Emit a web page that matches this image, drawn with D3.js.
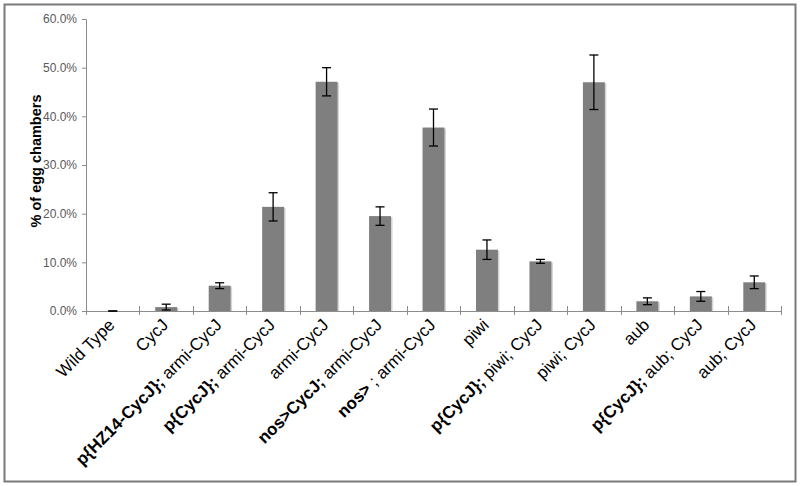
<!DOCTYPE html>
<html>
<head>
<meta charset="utf-8">
<script src="https://cdn.jsdelivr.net/npm/d3@7"></script>
<style>
  body { margin: 0; background: #fff; }
  svg { display: block; font-family: "Liberation Sans", Arial, sans-serif; }
</style>
</head>
<body>
<div id="chart"></div>
<script>
// categories: bold prefix + regular remainder
var boldParts = ["", "", "p{HZ14-CycJ};", "p{CycJ};", "", "nos>CycJ;", "nos>", "", "p{CycJ};", "", "", "p{CycJ};", ""];
var plainParts = ["Wild Type", "CycJ", " armi-CycJ", " armi-CycJ", "armi-CycJ", " armi-CycJ", " ; armi-CycJ", "piwi", " piwi; CycJ", "piwi; CycJ", "aub", " aub; CycJ", "aub; CycJ"];
var values = [0, 0.8, 5.2, 21.4, 47.1, 19.5, 37.7, 12.6, 10.2, 47.0, 2.0, 3.0, 5.9];
var errors = [0, 0.6, 0.6, 2.9, 2.9, 1.9, 3.8, 2.0, 0.4, 5.6, 0.7, 1.0, 1.3];
var yTicks = [0, 10, 20, 30, 40, 50, 60];

(function () {
    var width = 800, height = 486;
    var margin = {top: 19, right: 19, bottom: 175, left: 86};

    var svg = d3.select('#chart')
        .append('svg')
        .attr('width', width)
        .attr('height', height);

    // outer frame
    svg.append('rect')
        .attr('x', 4.5).attr('y', 4.5)
        .attr('width', 791).attr('height', 477)
        .attr('fill', 'none')
        .attr('stroke', '#7a7a7a')
        .attr('stroke-width', 2);

    var idx = d3.range(values.length);

    var x = d3.scaleBand()
        .domain(idx)
        .range([margin.left, width - margin.right])
        .paddingInner(0.59)
        .paddingOuter(0.295);

    var y = d3.scaleLinear()
        .domain([0, 60])
        .range([height - margin.bottom, margin.top]);

    // band boundaries for x ticks
    var bandEdge = d3.scaleLinear().domain([0, values.length]).range([margin.left, width - margin.right]);

    // y axis
    var yAxis = svg.append('g')
        .attr('transform', `translate(${margin.left},0)`)
        .call(d3.axisLeft(y).tickValues(yTicks).tickSize(4).tickPadding(5)
            .tickFormat(d => d.toFixed(1) + '%'));
    yAxis.select('.domain').attr('stroke', '#8c8c8c');
    yAxis.selectAll('.tick line').attr('stroke', '#8c8c8c');
    yAxis.selectAll('.tick text')
        .attr('fill', '#595959')
        .style('font-size', '12px')
        .style('font-family', '"Liberation Sans", Arial, sans-serif');

    // bar shadows
    svg.selectAll('rect.shadow')
        .data(idx)
        .join('rect')
        .attr('class', 'shadow')
        .attr('x', d => x(d) + 1.5)
        .attr('y', d => y(values[d]) + 1)
        .attr('width', x.bandwidth())
        .attr('height', d => Math.max(0, y(0) - y(values[d]) - 1))
        .attr('fill', '#d4d4d4');

    // bars
    svg.selectAll('rect.bar')
        .data(idx)
        .join('rect')
        .attr('class', 'bar')
        .attr('x', d => x(d))
        .attr('y', d => y(values[d]))
        .attr('width', x.bandwidth())
        .attr('height', d => y(0) - y(values[d]))
        .attr('fill', '#7f7f7f');

    // x axis line and cross ticks
    svg.append('line')
        .attr('x1', margin.left).attr('x2', width - margin.right)
        .attr('y1', y(0) + 0.5).attr('y2', y(0) + 0.5)
        .attr('stroke', '#8c8c8c');
    svg.selectAll('line.xtick')
        .data(d3.range(values.length + 1))
        .join('line')
        .attr('class', 'xtick')
        .attr('x1', d => Math.round(bandEdge(d)) + 0.5)
        .attr('x2', d => Math.round(bandEdge(d)) + 0.5)
        .attr('y1', y(0) - 5).attr('y2', y(0) + 4)
        .attr('stroke', '#8c8c8c');

    // error bars
    var eb = svg.selectAll('g.err')
        .data(idx)
        .join('g')
        .attr('class', 'err')
        .attr('transform', d => `translate(${x(d) + x.bandwidth() / 2},0)`);
    eb.append('line')
        .attr('y1', d => y(values[d] + errors[d]))
        .attr('y2', d => y(values[d] - errors[d]))
        .attr('stroke', '#000').attr('stroke-width', 1.3);
    eb.append('line')
        .attr('x1', -4.5).attr('x2', 4.5)
        .attr('y1', d => y(values[d] + errors[d]))
        .attr('y2', d => y(values[d] + errors[d]))
        .attr('stroke', '#000').attr('stroke-width', 1.3);
    eb.append('line')
        .attr('x1', -4.5).attr('x2', 4.5)
        .attr('y1', d => y(values[d] - errors[d]))
        .attr('y2', d => y(values[d] - errors[d]))
        .attr('stroke', '#000').attr('stroke-width', 1.3);

    // category labels, rotated
    var labels = svg.selectAll('text.xlab')
        .data(idx)
        .join('text')
        .attr('class', 'xlab')
        .attr('transform', d => `translate(${x(d) + x.bandwidth() / 2 + 3},${y(0) + 15}) rotate(-45)`)
        .attr('text-anchor', 'end')
        .style('font-size', '17px')
        .attr('fill', '#000');
    labels.append('tspan')
        .attr('font-weight', 'bold')
        .text(d => boldParts[d]);
    labels.append('tspan')
        .text(d => plainParts[d]);

    // y title
    svg.append('text')
        .attr('transform', `translate(41,${(y(0) + y(60)) / 2 - 4}) rotate(-90)`)
        .attr('text-anchor', 'middle')
        .attr('font-weight', 'bold')
        .style('font-size', '14.5px')
        .text('% of egg chambers');
}());
</script>
</body>
</html>
